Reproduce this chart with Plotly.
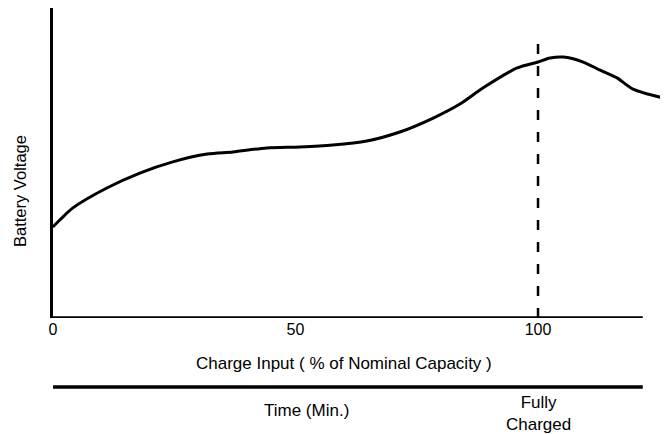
import plotly.graph_objects as go

# Charge input (% of nominal capacity) and relative battery voltage (0-100 scale)
charge_input = [0, 1.4, 4.1, 11.1, 17.9, 24.7, 31.8, 37.1, 44.1, 50.9, 57.7, 64.7,
                71.5, 78.4, 83.9, 88.7, 95.7, 100, 102.5, 105.2, 109.3, 112.8,
                116.3, 119.6, 126.8]
battery_voltage = [29.3, 31.5, 35.4, 41.8, 46.6, 50.2, 52.7, 53.4, 54.7, 55.0, 55.6,
                   56.9, 59.8, 64.3, 68.8, 74.0, 80.4, 82.3, 83.6, 83.9, 82.3, 79.7,
                   77.2, 73.6, 70.4]
tick_vals = [0, 50, 100]
tick_text = ["0", "50", "100"]
fully_charged_x = 100
axis_end_x = 121.6

FONT = "Liberation Sans, Arial, Helvetica, sans-serif"
PH = 310.0  # plot height in px


def py(page_y):
    # page pixel row -> paper coordinate (plot bottom at page row 318)
    return (318 - page_y) / PH


fig = go.Figure()
fig.add_trace(go.Scatter(
    x=charge_input, y=battery_voltage, mode="lines",
    line=dict(color="black", width=3, shape="spline", smoothing=0.8),
    hoverinfo="skip", showlegend=False,
))

shapes = [
    dict(type="line", xref="x", yref="y", x0=0, x1=axis_end_x, y0=0, y1=0,
         line=dict(color="black", width=3.5)),
    dict(type="line", xref="x", yref="paper", x0=fully_charged_x, x1=fully_charged_x,
         y0=0, y1=py(40), line=dict(color="black", width=2.5, dash="10px,12px")),
    dict(type="line", xref="x", yref="paper", x0=-0.4, x1=axis_end_x,
         y0=py(387), y1=py(387), line=dict(color="black", width=3.5)),
    dict(type="line", xref="x", yref="paper", x0=-0.4, x1=-0.4,
         y0=py(388.5), y1=py(377), line=dict(color="black", width=3)),
]

annotations = [
    dict(text="Charge Input ( % of Nominal Capacity )", xref="x", yref="paper",
         x=(344 - 53) / 4.85, y=py(363), showarrow=False, yanchor="middle",
         font=dict(family=FONT, size=17, color="black")),
    dict(text="Time (Min.)", xref="x", yref="paper",
         x=(306 - 53) / 4.85, y=py(410), showarrow=False, yanchor="middle",
         font=dict(family=FONT, size=17, color="black")),
    dict(text="Fully<br>Charged", xref="x", yref="paper",
         x=fully_charged_x, y=py(413), showarrow=False, yanchor="middle",
         font=dict(family=FONT, size=17, color="black")),
    dict(text="Battery Voltage", xref="paper", yref="paper", textangle=-90,
         x=(20 - 53) / 615, y=py(191), xanchor="center", yanchor="middle",
         showarrow=False, font=dict(family=FONT, size=16.5, color="black")),
]

fig.update_layout(
    width=660, height=426,
    margin=dict(l=45, r=0, t=0, b=116),
    paper_bgcolor="white", plot_bgcolor="white",
    shapes=shapes, annotations=annotations,
    xaxis=dict(range=[0, 126.8], showgrid=False, zeroline=False, showline=False,
               tickvals=tick_vals, ticktext=tick_text, ticks="", ticklen=0,
               tickfont=dict(family=FONT, size=16, color="black")),
    yaxis=dict(range=[0, PH / 3.11], showgrid=False, zeroline=False, showline=True,
               linecolor="black", linewidth=3, showticklabels=False, ticks=""),
)

fig.write_html("out.html")
